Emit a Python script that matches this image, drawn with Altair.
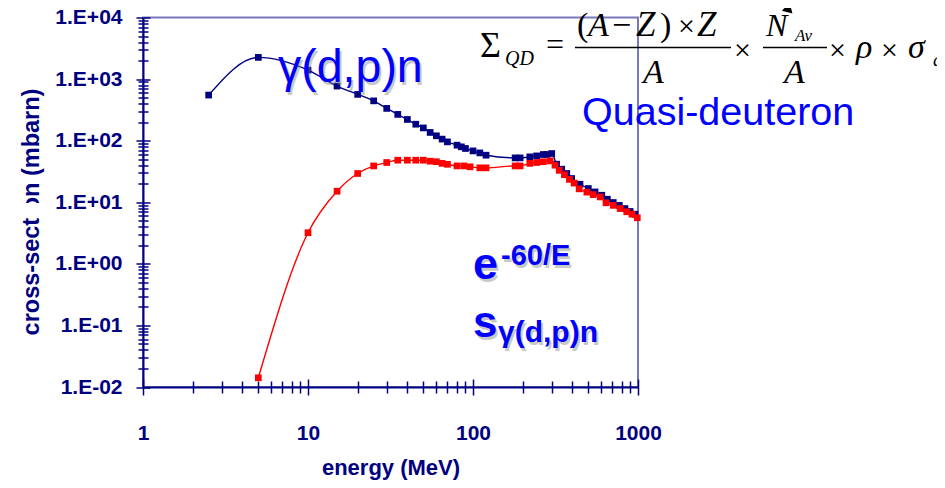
import altair as alt
import pandas as pd

# ---------------- data ----------------
blue_energy = [2.5, 5, 10, 15, 20, 25, 30, 35, 40, 45, 50, 55, 60, 65, 70, 80, 85, 90,
               100, 110, 120, 180, 193, 221, 243, 267, 280, 300, 321, 345, 370, 396,
               445, 500, 549, 603, 652, 708, 770, 834, 895, 959]
blue_xs = [550, 2250, 1400, 770, 564, 443, 334, 267, 221, 185, 161, 136, 120, 106, 95.5,
           84.5, 79.4, 74.6, 68.2, 63.3, 58.1, 52.5, 52.5, 54.6, 56.6, 59.6, 59.6, 61.8,
           41.5, 34.4, 29.3, 24.3, 19.6, 16.7, 14.7, 13.0, 11.2, 9.9, 8.9, 7.9, 7.1, 6.4]

red_energy = [5, 10, 15, 20, 25, 30, 35, 40, 45, 50, 55, 60, 65, 70, 80, 88, 96, 110, 120,
              180, 193, 221, 243, 267, 293, 314, 333, 358, 384, 410, 440, 490, 535, 590,
              640, 708, 780, 855, 920, 990]
red_xs = [0.0141, 3.2, 15.1, 29.3, 38.9, 44.2, 48.2, 48.2, 48.2, 48.2, 46.4, 45.5, 42.8,
          41.3, 38.9, 38.9, 37.6, 36.2, 36.2, 38.9, 38.9, 42.8, 44.2, 45.5, 47.0, 40.0,
          33.0, 28.0, 23.5, 20.5, 16.5, 14.6, 13.3, 12.2, 9.8, 8.9, 7.9, 7.0, 6.4, 5.6]

series_names = ["total", "qd"]
series_colors = ["#000080", "#ff0000"]

df = pd.concat([
    pd.DataFrame({"series": series_names[0], "energy": blue_energy, "xs": blue_xs, "o": 0}),
    pd.DataFrame({"series": series_names[1], "energy": red_energy, "xs": red_xs, "o": 1}),
], ignore_index=True)

# ---------------- layout ----------------
W, H = 495, 369.5
OX, OY = 143, 17.5          # page position of the plot origin
NAVY = "#000080"
BLUE = "#0000ff"
SANS = "Liberation Sans"
SERIF = "Liberation Serif"

E = "round(log(datum.value)/LN10)"
IS_DEC = f"abs(log(datum.value)/LN10 - {E}) < 0.001"
major_minor = lambda a, b: {"condition": {"test": IS_DEC, "value": a}, "value": b}

xscale = alt.Scale(type="log", domain=[1, 1000], nice=False)
yscale = alt.Scale(type="log", domain=[0.01, 10000], nice=False)
cscale = alt.Scale(domain=series_names, range=series_colors)

x_axis = alt.Axis(
    orient="bottom", tickCount=30, grid=False,
    labelExpr=f"{IS_DEC} ? format(datum.value, 'd') : ''",
    labelFont=SANS, labelFontSize=21, labelFontWeight="bold", labelColor=NAVY,
    labelPadding=27, labelOverlap=False, labelFlush=False, labelBaseline="top",
    domainColor=NAVY, domainWidth=2, tickColor=NAVY, tickWidth=1.5,
    tickSize=major_minor(8, 6),
    title="energy (MeV)", titleFont=SANS, titleFontSize=22, titleFontWeight="bold",
    titleColor=NAVY, titleBaseline="alphabetic", titleY=87, titleX=W / 2,
    titleAlign="center",
)
y_axis = alt.Axis(
    orient="left", tickCount=30, grid=False,
    labelExpr=f"{IS_DEC} ? '1.E' + ({E} >= 0 ? '+' : '-') + '0' + abs({E}) : ''",
    labelFont=SANS, labelFontSize=21, labelFontWeight="bold", labelColor=NAVY,
    labelPadding=14, labelOverlap=False, labelFlush=False,
    domainColor=NAVY, domainWidth=2, tickColor=NAVY, tickWidth=1.5,
    tickSize=major_minor(7, 5),
    title="cross-section (mbarn)", titleFont=SANS, titleFontSize=23.5,
    titleFontWeight="bold", titleColor=NAVY, titleBaseline="alphabetic",
    titleX=-105, titleY=194, titleAlign="center",
)
# second pair of axes: the inner halves of the ticks that cross the axis lines
x_axis_in = alt.Axis(orient="top", offset=-H, tickCount=30, grid=False, labels=False,
                     domain=False, title=None, tickColor=NAVY, tickWidth=1.5,
                     tickSize=major_minor(8, 6))
y_axis_in = alt.Axis(orient="right", offset=-W, tickCount=30, grid=False, labels=False,
                     domain=False, title=None, tickColor=NAVY, tickWidth=1.5,
                     tickSize=major_minor(7, 5))

base = alt.Chart(df)
lines = base.mark_line(interpolate="monotone", strokeWidth=1.4, clip=True).encode(
    x=alt.X("energy:Q", scale=xscale, axis=x_axis),
    y=alt.Y("xs:Q", scale=yscale, axis=y_axis),
    color=alt.Color("series:N", scale=cscale, legend=None),
    detail="series:N",
)
points = base.mark_square(size=45, opacity=1).encode(
    x=alt.X("energy:Q", scale=xscale, axis=None),
    y=alt.Y("xs:Q", scale=yscale, axis=None),
    color=alt.Color("series:N", scale=cscale, legend=None),
    order="o:Q",
)
inner = base.mark_point(opacity=0).encode(
    x=alt.X("energy:Q", scale=xscale, axis=x_axis_in),
    y=alt.Y("xs:Q", scale=yscale, axis=y_axis_in),
)

one = pd.DataFrame({"k": [0]})


def txt(s, px, py, size, color, font=SANS, weight="normal", style="normal",
        align="left", baseline="alphabetic", opacity=1.0):
    return alt.Chart(one).mark_text(
        fontSize=size, font=font, fontWeight=weight, fontStyle=style, color=color,
        align=align, baseline=baseline, opacity=opacity,
    ).encode(x=alt.value(px - OX), y=alt.value(py - OY), text=alt.value(s))


def hbar(x1, x2, py):
    return alt.Chart(one).mark_rule(color="black", strokeWidth=1.5).encode(
        x=alt.value(x1 - OX), x2=alt.value(x2 - OX), y=alt.value(py - OY))


SH = "#8a8a8a"
annotations = [
    # white patch that hides part of the y title in the original
    alt.Chart(one).mark_rect(color="white").encode(
        x=alt.value(14 - OX), x2=alt.value(44 - OX), y=alt.value(203 - OY), y2=alt.value(216 - OY)),
    # labels with soft shadows
    txt("γ(d,p)n", 280, 85, 46.5, SH, opacity=0.45),
    txt("γ(d,p)n", 278, 82, 46.5, BLUE),
    txt("Quasi-deuteron", 582, 125, 39.5, BLUE),
    txt("e", 475, 282, 45, SH, weight="bold", opacity=0.45),
    txt("e", 473, 279, 45, BLUE, weight="bold"),
    txt("-60/E", 503, 268, 29, SH, weight="bold", opacity=0.45),
    txt("-60/E", 501, 265, 29, BLUE, weight="bold"),
    txt("s", 475, 340, 44, SH, weight="bold", opacity=0.45),
    txt("s", 473, 337, 44, BLUE, weight="bold"),
    txt("γ(d,p)n", 500, 345, 30, SH, weight="bold", opacity=0.45),
    txt("γ(d,p)n", 498, 342, 30, BLUE, weight="bold"),
    # formula  Σ_QD = (A−Z)×Z / A × N_Av / A × ρ × σ_d
    txt("Σ", 480, 57, 36, "black", font=SERIF),
    txt("QD", 505, 65, 20, "black", font=SERIF, style="italic"),
    txt("=", 546, 55, 32, "black", font=SERIF),
    txt("(", 577, 36, 34, "black", font=SERIF),
    txt("A", 588, 36, 34, "black", font=SERIF, style="italic"),
    txt("−", 612, 36, 34, "black", font=SERIF),
    txt("Z", 636, 36, 35, "black", font=SERIF, style="italic"),
    txt(")", 660, 36, 34, "black", font=SERIF),
    txt("×", 678, 36, 30, "black", font=SERIF),
    txt("Z", 697, 36, 35, "black", font=SERIF, style="italic"),
    hbar(575, 731, 47.5),
    txt("A", 643, 83, 34, "black", font=SERIF, style="italic"),
    txt("×", 734, 60, 30, "black", font=SERIF),
    txt("N", 766, 36, 32, "black", font=SERIF, style="italic"),
    txt("Av", 795, 41, 17, "black", font=SERIF, style="italic"),
    hbar(763, 827, 47.5),
    txt("A", 784, 83, 34, "black", font=SERIF, style="italic"),
    txt("×", 829, 60, 30, "black", font=SERIF),
    txt("ρ", 856, 58, 34, "black", font=SERIF, style="italic"),
    txt("×", 881, 60, 30, "black", font=SERIF),
    txt("σ", 908, 58, 34, "black", font=SERIF, style="italic"),
    txt("d", 933, 66, 19, "black", font=SERIF, style="italic"),
    # arrow head pointing at N
    alt.Chart(one).mark_point(shape="triangle", filled=True, color="black", size=120,
                              angle=135, opacity=1).encode(
        x=alt.value(788 - OX), y=alt.value(9 - OY)),
]

chart = alt.layer(inner, lines, points, *annotations).resolve_axis(
    x="independent", y="independent"
).properties(
    width=W, height=H,
    autosize=alt.AutoSizeParams(type="none"),
    padding={"left": 135, "top": 9.5, "right": 299, "bottom": 93},
    background="white",
).configure_view(stroke="#7878bc", strokeWidth=2)

chart.save("out.html", embed_options={"renderer": "svg", "actions": False})
